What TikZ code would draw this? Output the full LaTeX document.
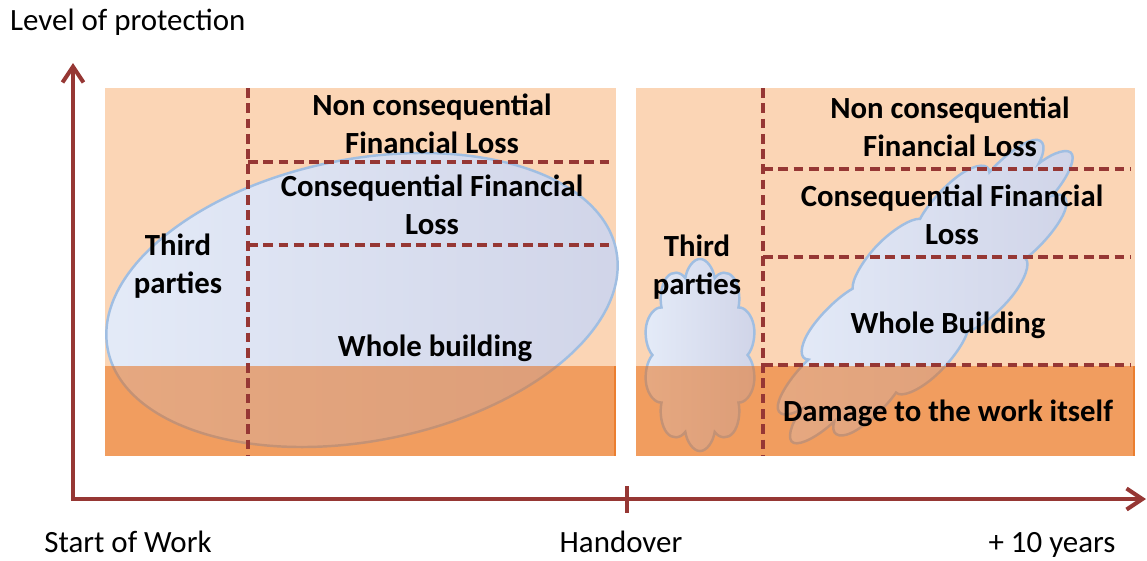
\documentclass[tikz,border=0pt]{standalone}
\usepackage{fontspec}
\setmainfont{Carlito}
\usetikzlibrary{shapes, arrows.meta}
\definecolor{peach}{RGB}{251,213,181}
\definecolor{rust}{RGB}{232,103,10}
\definecolor{maroon}{RGB}{150,55,52}
\definecolor{coverline}{RGB}{160,190,226}
\definecolor{coverlight}{RGB}{228,235,248}
\definecolor{covermid}{RGB}{188,206,236}
\definecolor{coverend}{RGB}{208,212,232}
\tikzstyle{panel} = [fill=peach]
\tikzstyle{band} = [fill=rust, fill opacity=0.5]
\tikzstyle{bandedge} = [draw=rust!85, line width=1.3pt]
\tikzstyle{divider} = [draw=maroon, line width=2pt, dash pattern=on 5.5pt off 3.2pt]
\tikzstyle{axis} = [draw=maroon, line width=2.3pt]
\tikzstyle{cover} = [draw=coverline, line width=1.4pt, left color=coverlight, middle color=covermid, right color=coverend, inner sep=0pt]
\tikzstyle{zone} = [align=center, font=\bfseries\fontsize{17.5}{21.5}\selectfont]
\tikzstyle{axislabel} = [font=\fontsize{17.6}{21}\selectfont]

\begin{document}
\begin{tikzpicture}[x=0.2mm, y=-0.2mm]
			\useasboundingbox (0,0) rectangle (1147,560);
			
			% the two periods
			\path [panel] (105,88) rectangle (616,456);
			\path [panel] (636,88) rectangle (1135,456);
			
			% what the covers reach
			\node [cover, ellipse, minimum width=103.6mm, minimum height=56.4mm, rotate=11] (works) at (362,300) {};
			\node [cover, cloud, cloud puffs=10, aspect=1, minimum width=22.6mm, minimum height=22.6mm, yscale=1.7] (tpcloud) at (700,355) {};
			\node [cover, cloud, cloud puffs=11, aspect=1, minimum width=27mm, minimum height=27mm, rotate=46, xscale=3] (decennial) at (926,292) {};
			
			% damage to the work itself
			\path [band] (105,366) rectangle (616,456);
			\path [band] (636,366) rectangle (1135,456);
			\path [bandedge] (615,366) -- (615,456);
			\path [bandedge] (1134,366) -- (1134,456);
			
			\path [divider] (248,88) -- (248,456);
			\path [divider] (248,162) -- (612,162);
			\path [divider] (248,245) -- (612,245);
			\path [divider] (763,88) -- (763,456);
			\path [divider] (763,169) -- (1130,169);
			\path [divider] (763,257) -- (1130,257);
			\path [divider] (763,365) -- (1130,365);
			
			\node [zone] (lnon) at (432,124) {Non consequential\\Financial Loss};
			\node [zone] (lcons) at (432,205) {Consequential Financial\\Loss};
			\node [zone] (lthird) at (178,266) {Third\\parties};
			\node [zone] (lwhole) at (435,348) {Whole building};
			
			\node [zone] (rnon) at (950,127) {Non consequential\\Financial Loss};
			\node [zone] (rcons) at (952,215) {Consequential Financial\\Loss};
			\node [zone] (rthird) at (697,267) {Third\\parties};
			\node [zone] (rwhole) at (948,325) {Whole Building};
			\node [zone] (rdamage) at (948,413) {Damage to the work itself};
			
			% axes
			\coordinate (origin) at (73,499);
			\coordinate (ytip) at (73,63);
			\coordinate (xtip) at (1146,499);
			\draw [axis, {Straight Barb[length=9pt,width=12pt]}-{Straight Barb[length=9pt,width=12pt]}] (ytip) -- (origin) -- (xtip);
			\draw [axis] (627,486) -- (627,513);
			
			\node [axislabel, anchor=base west] (ylabel) at (4,30) {Level of protection};
			\node [axislabel, anchor=base] (start) at (128,552) {Start of Work};
			\node [axislabel, anchor=base] (handover) at (621,552) {Handover};
			\node [axislabel, anchor=base] (tenyears) at (1052,552) {+ 10 years};
		\end{tikzpicture}
\end{document}
